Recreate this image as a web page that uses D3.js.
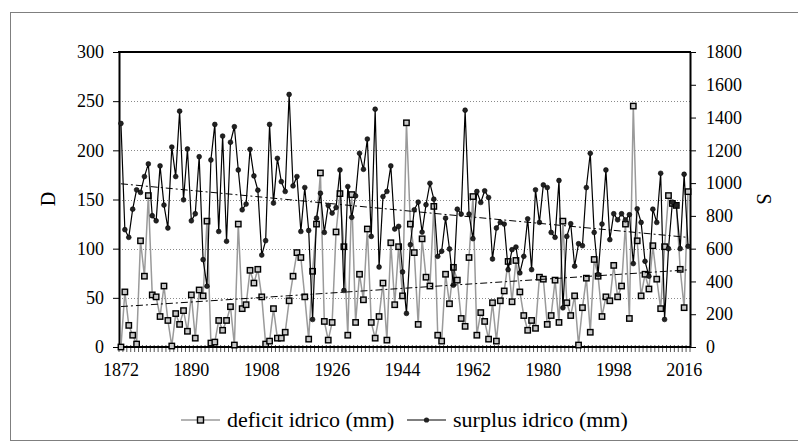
<!DOCTYPE html>
<html>
<head>
<meta charset="utf-8">
<script src="https://cdn.jsdelivr.net/npm/d3@7"></script>
<style>
  body { margin: 0; background: #fff; }
  text { font-family: "Liberation Serif", "Times New Roman", serif; fill: #000; }
</style>
</head>
<body>
<svg id="chart" width="798" height="443"></svg>
<script>
// categories: one per year
const years = d3.range(1872, 2018);

// deficit idrico (mm), left axis
const deficit = [
  0, 56, 22, 12, 3, 108, 72, 154, 53, 51, 31, 62, 27, 1, 34, 23, 37, 16, 53, 9,
  58, 52, 128, 4, 5, 27, 17, 27, 41, 2, 125, 39, 43, 78, 65, 79, 51, 3, 6, 39,
  9, 9, 15, 47, 72, 96, 91, 51, 8, 77, 125, 177, 26, 7, 25, 117, 156, 102, 12, 155,
  25, 74, 48, 120, 25, 9, 31, 65, 7, 106, 43, 102, 52, 228, 125, 96, 23, 110, 71, 62,
  143, 12, 6, 74, 44, 81, 68, 29, 21, 91, 153, 12, 35, 26, 8, 45, 6, 47, 57, 87,
  46, 88, 56, 32, 17, 27, 19, 71, 69, 23, 32, 68, 25, 128, 45, 32, 52, 2, 40, 70,
  15, 89, 72, 31, 51, 47, 83, 51, 62, 125, 29, 245, 108, 52, 74, 59, 103, 69, 39, 102,
  154, 146, 144, 79, 40, 158
];

// surplus idrico (mm), right axis
const surplus = [
  1364, 716, 669, 841, 959, 943, 1040, 1117, 801, 770, 1105, 866, 726, 1220, 1040, 1439, 898, 1208, 770, 813,
  1161, 533, 371, 1141, 1358, 705, 1287, 645, 1249, 1344, 1080, 837, 872, 1206, 1044, 957, 561, 649, 1358, 878,
  1151, 1009, 949, 1541, 983, 1040, 705, 973, 711, 168, 786, 938, 699, 864, 817, 851, 1080, 345, 979, 791,
  922, 1182, 1084, 1269, 675, 1451, 488, 918, 949, 1105, 720, 736, 458, 205, 624, 837, 884, 701, 868, 999,
  902, 553, 584, 786, 598, 377, 841, 811, 1445, 811, 661, 949, 882, 953, 912, 537, 726, 760, 750, 472,
  594, 610, 452, 553, 782, 472, 959, 760, 989, 973, 699, 669, 1016, 239, 675, 752, 493, 630, 618, 973,
  1182, 699, 442, 750, 1080, 655, 813, 776, 813, 776, 807, 509, 843, 760, 523, 432, 841, 760, 1060, 168,
  600, 884, 864, 600, 1054, 614
];

const dTicks = [0, 50, 100, 150, 200, 250, 300];
const sTicks = [0, 200, 400, 600, 800, 1000, 1200, 1400, 1600, 1800];
const yearLabels = [1872, 1890, 1908, 1926, 1944, 1962, 1980, 1998, 2016];
const seriesNames = ["deficit idrico (mm)", "surplus idrico (mm)"];

const plotLeft = 119, plotRight = 690, plotTop = 52, plotBottom = 347;
const serif = "'Liberation Serif', 'Times New Roman', serif";

const svg = d3.select("#chart");

// outer frame
svg.append("rect")
   .attr("x", 10.5).attr("y", 12.5)
   .attr("width", 800).attr("height", 428)
   .attr("fill", "none")
   .attr("stroke", "#7f7f7f");

const x = d3.scaleBand().domain(years).range([plotLeft, plotRight]);
const cx = d => x(d) + x.bandwidth() / 2;
const yD = d3.scaleLinear().domain([0, 300]).range([plotBottom, plotTop]);
const yS = d3.scaleLinear().domain([0, 1800]).range([plotBottom, plotTop]);

// gridlines
svg.append("g")
   .selectAll("line")
   .data(dTicks.filter(t => t > 0 && t < 300))
   .enter().append("line")
   .attr("x1", plotLeft).attr("x2", plotRight)
   .attr("y1", d => Math.round(yD(d)) + 0.5)
   .attr("y2", d => Math.round(yD(d)) + 0.5)
   .attr("stroke", "#8a8a8a")
   .attr("stroke-dasharray", "1,2");

// left axis
const axisL = svg.append("g")
   .attr("transform", "translate(" + plotLeft + ",0)")
   .call(d3.axisLeft(yD).tickValues(dTicks).tickFormat(d3.format("d"))
           .tickSize(6).tickSizeOuter(0).tickPadding(9));
axisL.attr("font-family", serif).attr("font-size", 18);
axisL.select(".domain").attr("stroke-width", 2);

// right axis
const axisR = svg.append("g")
   .attr("transform", "translate(" + plotRight + ",0)")
   .call(d3.axisRight(yS).tickValues(sTicks).tickFormat(d3.format("d"))
           .tickSize(6).tickSizeOuter(0).tickPadding(10));
axisR.attr("font-family", serif).attr("font-size", 18);
axisR.select(".domain").attr("stroke-width", 2);

// top border of plot area
svg.append("line")
   .attr("x1", plotLeft - 1).attr("x2", plotRight + 1)
   .attr("y1", plotTop).attr("y2", plotTop)
   .attr("stroke", "#000").attr("stroke-width", 2);

// category ticks (between years)
const bounds = years.map(d => x(d)).concat([plotRight]);
svg.append("g")
   .selectAll("line")
   .data(bounds)
   .enter().append("line")
   .attr("x1", d => d).attr("x2", d => d)
   .attr("y1", plotBottom - 2).attr("y2", plotBottom + 5)
   .attr("stroke", "#444")
   .attr("stroke-width", 0.9);

svg.append("line")
   .attr("x1", plotLeft - 1).attr("x2", plotRight + 1)
   .attr("y1", plotBottom).attr("y2", plotBottom)
   .attr("stroke", "#000").attr("stroke-width", 2);

// year labels
svg.append("g")
   .selectAll("text")
   .data(yearLabels)
   .enter().append("text")
   .attr("x", d => cx(d))
   .attr("y", 376)
   .attr("text-anchor", "middle")
   .style("font-size", "18px")
   .text(d => d);

// axis titles
svg.append("text")
   .attr("transform", "translate(55,199) rotate(-90)")
   .attr("text-anchor", "middle")
   .style("font-size", "20px")
   .text("D");

svg.append("text")
   .attr("transform", "translate(757,199) rotate(90)")
   .attr("text-anchor", "middle")
   .style("font-size", "20px")
   .text("S");

// linear trend (least squares on the year index)
function trend(values) {
  const n = values.length;
  const mx = d3.mean(values, (v, i) => i);
  const my = d3.mean(values);
  let sxy = 0, sxx = 0;
  values.forEach((v, i) => { sxy += (i - mx) * (v - my); sxx += (i - mx) * (i - mx); });
  const b = sxy / sxx, a = my - b * mx;
  return [0, n - 1].map(i => ({ year: years[i], v: a + b * i }));
}

const dData = years.map((yr, i) => ({ year: yr, v: deficit[i] }));
const sData = years.map((yr, i) => ({ year: yr, v: surplus[i] }));

const lineD = d3.line().x(d => cx(d.year)).y(d => yD(d.v));
const lineS = d3.line().x(d => cx(d.year)).y(d => yS(d.v));

// deficit series
svg.append("path")
   .datum(dData)
   .attr("d", lineD)
   .attr("fill", "none")
   .attr("stroke", "#9a9a9a")
   .attr("stroke-width", 1.5);

svg.append("g")
   .selectAll("rect")
   .data(dData)
   .enter().append("rect")
   .attr("x", d => cx(d.year) - 2.7)
   .attr("y", d => yD(d.v) - 2.7)
   .attr("width", 5.4).attr("height", 5.4)
   .attr("fill", "#c8c8c8")
   .attr("stroke", "#000")
   .attr("stroke-width", 1.4);

// surplus series
svg.append("path")
   .datum(sData)
   .attr("d", lineS)
   .attr("fill", "none")
   .attr("stroke", "#000")
   .attr("stroke-width", 1.2);

svg.append("g")
   .selectAll("circle")
   .data(sData)
   .enter().append("circle")
   .attr("cx", d => cx(d.year))
   .attr("cy", d => yS(d.v))
   .attr("r", 2.4)
   .attr("fill", "#222")
   .attr("stroke", "#000")
   .attr("stroke-width", 0.6);

// trend lines
svg.append("path")
   .datum(trend(deficit))
   .attr("d", lineD)
   .attr("stroke", "#000").attr("stroke-width", 1)
   .attr("stroke-dasharray", "7,3,2,3")
   .attr("fill", "none");

svg.append("path")
   .datum(trend(surplus))
   .attr("d", lineS)
   .attr("stroke", "#000").attr("stroke-width", 1)
   .attr("stroke-dasharray", "7,3,2,3")
   .attr("fill", "none");

// legend
const legend = svg.append("g").attr("class", "legend");
const legY = 420;

const l1 = legend.append("g").attr("transform", "translate(181," + legY + ")");
l1.append("line").attr("x1", 0).attr("x2", 39).attr("stroke", "#9a9a9a").attr("stroke-width", 1.5);
l1.append("rect").attr("x", 16.5).attr("y", -3).attr("width", 6).attr("height", 6)
  .attr("fill", "#c8c8c8").attr("stroke", "#000").attr("stroke-width", 1.4);
l1.append("text").attr("x", 46).attr("dy", "0.33em").style("font-size", "22px").text(seriesNames[0]);

const l2 = legend.append("g").attr("transform", "translate(407," + legY + ")");
l2.append("line").attr("x1", 0).attr("x2", 39).attr("stroke", "#000").attr("stroke-width", 1.2);
l2.append("circle").attr("cx", 19.5).attr("r", 2.6).attr("fill", "#222");
l2.append("text").attr("x", 46).attr("dy", "0.33em").style("font-size", "22px").text(seriesNames[1]);
</script>
</body>
</html>
